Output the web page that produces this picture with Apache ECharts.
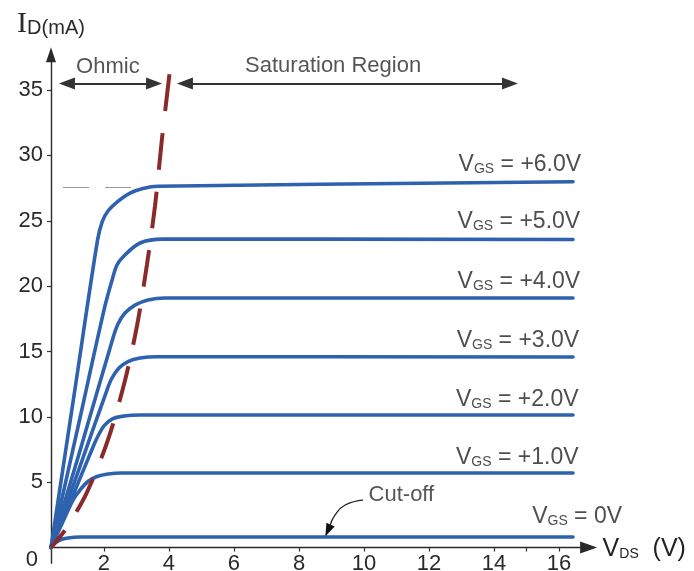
<!DOCTYPE html>
<html><head><meta charset="utf-8">
<script src="https://cdn.jsdelivr.net/npm/echarts@6/dist/echarts.min.js"></script>
<style>html,body{margin:0;padding:0;background:#fff}#c{width:694px;height:571px}</style>
</head><body><div id="c"></div>
<script>
// ---- tick values ----
const xTickValues = [2, 4, 6, 8, 10, 12, 14, 16];
const xExtraTicks = [15];
const yTickValues = [5, 10, 15, 20, 25, 30, 35];
const yLabelValues = [0, 5, 10, 15, 20, 25, 30, 35];

// ---- characteristic curves: [V_DS, I_D(mA)] ----
const vgsNames = ['0V', '+1.0V', '+2.0V', '+3.0V', '+4.0V', '+5.0V', '+6.0V'];
const curveVgs0 = [[0.37,0],[0.492,0.344],[0.646,0.574],[0.892,0.727],[1.262,0.8],[16.43,0.8]];
const curveVgs1 = [[0.37,0],[0.708,1.82],[1.046,3.63],[1.262,4.4],[1.508,5.05],[1.785,5.43],[2.123,5.62],[2.554,5.7],[16.43,5.7]];
const curveVgs2 = [[0.37,0],[1.015,3.81],[1.662,7.69],[1.815,8.53],[2.0,9.3],[2.246,9.83],[2.615,10.06],[3.108,10.14],[16.43,10.14]];
const curveVgs3 = [[0.37,0],[1.262,6.21],[2.092,12.05],[2.246,12.97],[2.462,13.73],[2.738,14.23],[3.108,14.5],[3.631,14.6],[16.43,14.58]];
const curveVgs4 = [[0.37,0],[1.262,7.41],[2.277,16.03],[2.431,17.1],[2.646,17.94],[2.954,18.55],[3.354,18.94],[3.877,19.09],[16.43,19.09]];
const curveVgs5 = [[0.37,0],[1.262,9.91],[2.0,18.17],[2.25,20.47],[2.4,21.61],[2.585,22.23],[3.11,23.3],[3.815,23.6],[16.43,23.57]];
const curveVgs6 = [[0.37,0],[1.108,12.13],[1.8,23.5],[1.95,24.95],[2.123,25.75],[2.4,26.43],[2.8,27.12],[3.2,27.47],[3.662,27.64],[16.43,27.99]];
const pinchOffLocus = [[0.37,0],[0.8,1.34],[1.45,4.09],[2.12,8.22],[2.65,12.82],[3.02,17.02],[3.32,21.61],[3.57,26.13],[3.78,31.18],[4.03,36.53]];

// ---- annotations (data coordinates) ----
const vgsLabelAnchors = [[17.94,2.49],[16.6,6.96],[16.6,11.4],[16.62,15.91],[16.65,20.47],[16.65,25.06],[16.68,29.38]];
const regionTexts = ['Ohmic', 'Saturation Region', 'Cut-off'];
const regionTextAnchors = [[2.12,36.76],[9.05,36.84],[11.15,4.02]];
const ohmicArrow = [[0.86,35.5],[3.54,35.5]];
const saturationArrow = [[4.49,35.5],[14.49,35.5]];
const cutoffPointer = [[9.97,3.63],[9.42,3.25],[9.11,2.49],[8.95,1.64]];
const cutoffPointerHead = [[8.95,1.64],[8.89,1.3]];
const ratedLevelGuide = [[0.74,27.58],[2.86,27.58]];

const FONT = '"Liberation Sans", Arial, sans-serif';
const BLUE = '#2e62ae';
const MAROON = '#8b2a2a';

const curves = [curveVgs0, curveVgs1, curveVgs2, curveVgs3, curveVgs4, curveVgs5, curveVgs6];

const series = curves.map((d, i) => ({
  type: 'line', name: 'VGS ' + vgsNames[i], data: d, smooth: 0.35,
  symbol: 'none', showSymbol: false, silent: true, z: 3,
  lineStyle: { color: BLUE, width: 3.6, cap: 'round', join: 'round' }
}));

// gray dashed guide on VGS=6 series
series[6].markLine = {
  silent: true, animation: false, symbol: ['none', 'none'], label: { show: false },
  lineStyle: { color: '#9a9a9a', width: 1, type: [26, 16] },
  data: [[{ coord: ratedLevelGuide[0] }, { coord: ratedLevelGuide[1] }]]
};

// cut-off pointer (curved) with its arrowhead
series.push({
  type: 'line', name: 'cutoffPointer', data: cutoffPointer, smooth: 0.5, symbol: 'none', silent: true, z: 5,
  lineStyle: { color: '#222', width: 1.3 },
  markLine: {
    silent: true, animation: false, symbol: ['none', 'triangle'], symbolSize: [9, 13],
    label: { show: false },
    lineStyle: { color: '#111', width: 1.3, type: 'solid' },
    data: [[{ coord: cutoffPointerHead[0] }, { coord: cutoffPointerHead[1] }]]
  }
});

series.push({
  type: 'line', name: 'locus', data: pinchOffLocus, smooth: 0.3, symbol: 'none', silent: true, z: 4,
  lineStyle: { color: MAROON, width: 4, type: [37, 22], dashOffset: 15 },
  markLine: {
    silent: true, animation: false, symbol: ['triangle', 'triangle'], symbolSize: [12, 16],
    label: { show: false },
    lineStyle: { color: '#333', width: 2, type: 'solid' },
    data: [
      [{ coord: ohmicArrow[0] }, { coord: ohmicArrow[1] }],
      [{ coord: saturationArrow[0] }, { coord: saturationArrow[1] }]
    ]
  }
});

series.push({
  type: 'scatter', symbolSize: 0, clip: false, silent: true, z: 6,
  data: vgsLabelAnchors.map((p, i) => ({ value: p, label: { formatter: '{v|V}{s|GS}{v| = ' + vgsNames[i] + '}' } })),
  label: {
    show: true, position: 'left', distance: 0,
    rich: {
      v: { fontFamily: FONT, fontSize: 23, lineHeight: 26, verticalAlign: 'bottom', color: '#222' },
      s: { fontFamily: FONT, fontSize: 14, lineHeight: 16, verticalAlign: 'bottom', color: '#222' }
    }
  }
});

series.push({
  type: 'scatter', symbolSize: 0, clip: false, silent: true, z: 6,
  data: regionTextAnchors.map((p, i) => ({ value: p, label: { formatter: regionTexts[i] } })),
  label: { show: true, position: 'inside', fontFamily: FONT, fontSize: 22, color: '#2a2a2a' }
});

const chart = echarts.init(document.getElementById('c'), null, { renderer: 'canvas' });
chart.setOption({
  animation: false,
  backgroundColor: '#fff',
  grid: { left: 51, right: 105.4, top: 54.8, bottom: 7.8, containLabel: false, outerBoundsMode: 'none' },
  xAxis: {
    type: 'value', min: 0.37, max: 16.91,
    name: '{v|V}{s|DS}{v|  (V)}', nameLocation: 'end', nameGap: 14,
    nameTextStyle: {
      rich: {
        v: { fontFamily: FONT, fontSize: 25, lineHeight: 28, verticalAlign: 'bottom', color: '#222' },
        s: { fontFamily: FONT, fontSize: 14, lineHeight: 16, verticalAlign: 'bottom', color: '#222' }
      }
    },
    axisLine: { onZero: true, symbol: ['none', 'triangle'], symbolSize: [12, 17], lineStyle: { color: '#2a2a2a', width: 1.4 } },
    axisTick: { show: true, customValues: xTickValues.concat(xExtraTicks), length: 4, lineStyle: { color: '#333', width: 1.2 } },
    axisLabel: { customValues: xTickValues, margin: -10, fontFamily: FONT, fontSize: 22, color: '#2a2a2a' },
    splitLine: { show: false }
  },
  yAxis: {
    type: 'value', min: -1.2, max: 37.7,
    name: '{i|I}{s|D(mA)}', nameLocation: 'end', nameGap: 16,
    nameTextStyle: {
      rich: {
        i: { fontFamily: '"Liberation Serif", "Times New Roman", serif', fontSize: 30, lineHeight: 32, verticalAlign: 'bottom', color: '#2a2a2a' },
        s: { fontFamily: FONT, fontSize: 20, lineHeight: 19, verticalAlign: 'bottom', color: '#2a2a2a' }
      }
    },
    axisLine: { show: true, symbol: ['none', 'triangle'], symbolSize: [10, 15], lineStyle: { color: '#2a2a2a', width: 1.4 } },
    axisTick: { show: true, customValues: yTickValues, length: 4, lineStyle: { color: '#333', width: 1.2 } },
    axisLabel: {
      customValues: yLabelValues, margin: 8, fontFamily: FONT, fontSize: 22, color: '#2a2a2a',
      formatter: v => (v === 0 ? '{z|0}' : String(v)),
      rich: { z: { fontFamily: FONT, fontSize: 22, color: '#2a2a2a', padding: [25, 5, 0, 0] } }
    },
    splitLine: { show: false }
  },
  series: series
});
</script>
</body></html>
